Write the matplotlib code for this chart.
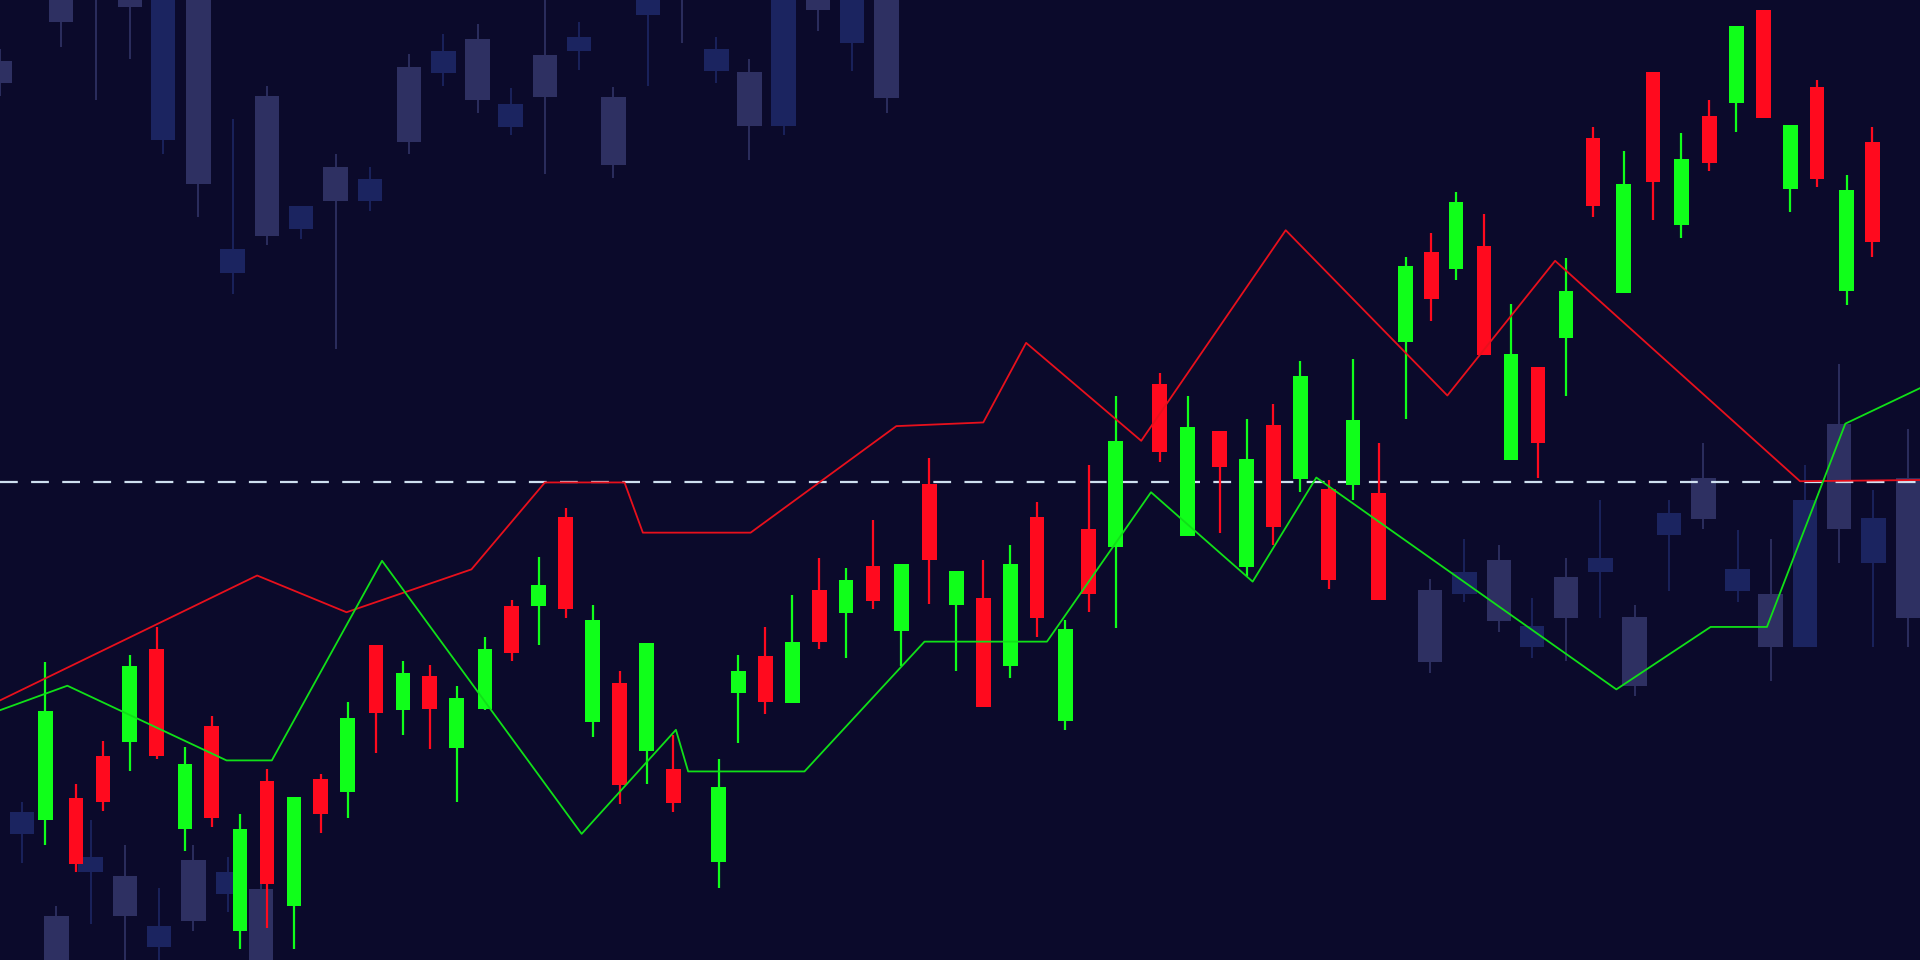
import matplotlib
matplotlib.use("Agg")
import matplotlib.pyplot as plt

# foreground candles: x, open, close, high, low (chart units, y grows downward)
fg_x = [37,62,84,106,128,151,173,196,218,240,262,284,307,329,351,373,396,418,440,462,484,506,528,550,587,603,625,647,669,691,713,736,759,781,803,825,847,870,889,911,947,970,996,1018,1040,1062,1085,1105,1126,1148,1169,1189,1212,1234,1256,1279,1301,1326,1350,1373,1396,1418,1440,1462,1484,1508,1529]
fg_up = [1,0,0,1,0,1,0,1,0,1,0,1,0,1,0,1,1,0,1,0,1,0,1,0,1,1,0,1,0,1,0,1,0,1,0,1,0,1,0,1,0,1,0,1,0,1,0,1,0,1,0,1,0,1,0,1,0,1,0,1,0,1,0,1,0,1,0]
fg_top = [581,652,617,544,530,624,593,677,638,651,636,586,527,550,552,570,530,495,478,422,506,558,525,628,643,548,536,524,482,474,462,461,395,466,488,461,422,514,432,360,314,349,352,375,347,307,399,343,403,217,206,165,201,289,300,238,113,150,59,130,95,21,8,102,71,155,116]
fg_bot = [670,706,655,606,617,677,668,760,722,740,665,647,582,580,579,611,579,533,495,497,590,641,613,656,704,566,573,574,524,501,491,515,457,494,577,544,505,589,485,447,369,438,381,463,430,391,474,396,490,279,244,220,290,376,362,276,168,239,149,184,133,84,96,154,146,238,198]
fg_hi = [541,640,605,535,512,610,585,665,628,651,632,573,527,540,543,560,520,490,455,415,494,548,525,600,620,535,512,486,456,464,425,461,374,466,457,445,410,506,380,323,305,323,352,342,330,295,392,293,362,210,190,157,175,248,300,211,104,123,59,109,82,21,8,102,65,143,104]
fg_lo = [690,712,662,630,620,695,675,775,758,775,680,668,615,600,612,655,580,540,527,505,602,657,640,663,725,607,583,574,530,537,497,544,493,548,577,554,520,596,500,513,377,438,435,470,445,402,481,408,490,342,262,229,290,376,390,323,177,239,180,194,140,108,96,173,153,249,210]

# background (faded) candles: x, body top, body bottom, wick top, wick bottom, tone (1=blue, 0=grey)
bg_x = [0,50,106,133,162,190,218,246,274,302,334,362,390,417,445,473,501,529,585,612,640,668,696,724,
        18,46,74,102,130,158,186,213,
        1168,1196,1224,1251,1279,1307,1335,1363,1391,1419,1446,1474,1502,1530,1558]
bg_top = [50,0,0,0,0,203,78,168,136,146,55,42,32,85,45,30,79,0,40,59,0,0,0,0,
          663,748,700,715,756,702,712,726,
          482,467,457,511,471,456,504,419,390,465,485,408,346,423,390]
bg_bot = [68,18,6,114,150,223,193,187,164,164,116,60,82,104,79,42,135,12,58,103,103,8,35,80,
          681,784,712,748,773,752,730,784,
          541,485,507,528,505,467,560,437,424,483,528,528,432,460,505]
bg_hi = [40,0,0,0,0,97,70,168,126,136,44,28,20,72,0,18,71,0,30,48,0,0,0,0,
         655,740,670,690,725,690,700,720,
         473,440,445,488,456,408,494,408,362,433,440,380,297,400,350]
bg_lo = [78,38,48,126,177,240,200,195,285,172,126,70,92,110,142,57,145,70,68,131,110,25,58,92,
         705,784,755,784,784,760,745,784,
         550,492,516,537,540,505,568,483,432,492,556,528,460,528,528]
bg_tone = [0,0,0,1,0,1,0,1,0,1,0,1,0,1,0,1,0,1,1,0,1,0,1,0,
           1,0,1,0,1,0,1,0,
           0,1,0,1,0,1,0,1,0,1,0,1,0,1,0]
bg_wick_only = [78, 557]
bg_wick_only_lo = [82, 35]

red_x = [0,210,283,385,445,510,525,613,732,803,838,932,1050,1182,1270,1470,1568]
red_y = [572,470,500,465,394,394,435,435,348,345,280,360,188,323,213,393,392]
green_x = [0,55,185,222,312,475,552,562,657,755,855,940,1023,1075,1320,1397,1443,1507,1568]
green_y = [580,560,621,621,458,681,596,630,630,524,524,402,475,390,563,512,512,346,317]
level = 394

BG = "#0b0a2b"
fig = plt.figure(figsize=(19.2, 9.6), dpi=100, facecolor=BG)
ax = fig.add_axes([0, 0, 1, 1], facecolor=BG)
ax.set_xlim(0, 1568)
ax.set_ylim(784, 0)
ax.axis("off")

tones = {0: "#2e3062", 1: "#1b2460"}
for x, lo in zip(bg_wick_only, bg_wick_only_lo):
    ax.vlines(x, 0, lo, color=tones[0], lw=1.3, zorder=1)
for x, t, b, h, l, tn in zip(bg_x, bg_top, bg_bot, bg_hi, bg_lo, bg_tone):
    c = tones[tn]
    ax.vlines(x, h, l, color=c, lw=1.3, zorder=1)
    ax.bar(x, b - t, bottom=t, width=20, color=c, zorder=1.5)

ax.axhline(level, color="#cfe0f0", lw=1.6, dashes=(8, 6), zorder=2)

for x, up, t, b, h, l in zip(fg_x, fg_up, fg_top, fg_bot, fg_hi, fg_lo):
    c = "#10ff1a" if up else "#ff0a1e"
    ax.vlines(x, h, l, color=c, lw=1.6, zorder=3)
    ax.bar(x, b - t, bottom=t, width=12, color=c, zorder=3.5)

ax.plot(red_x, red_y, color="#e8101c", lw=1.3, zorder=4)
ax.plot(green_x, green_y, color="#10e018", lw=1.3, zorder=4)

fig.savefig("out.png", dpi=100, facecolor=BG)
